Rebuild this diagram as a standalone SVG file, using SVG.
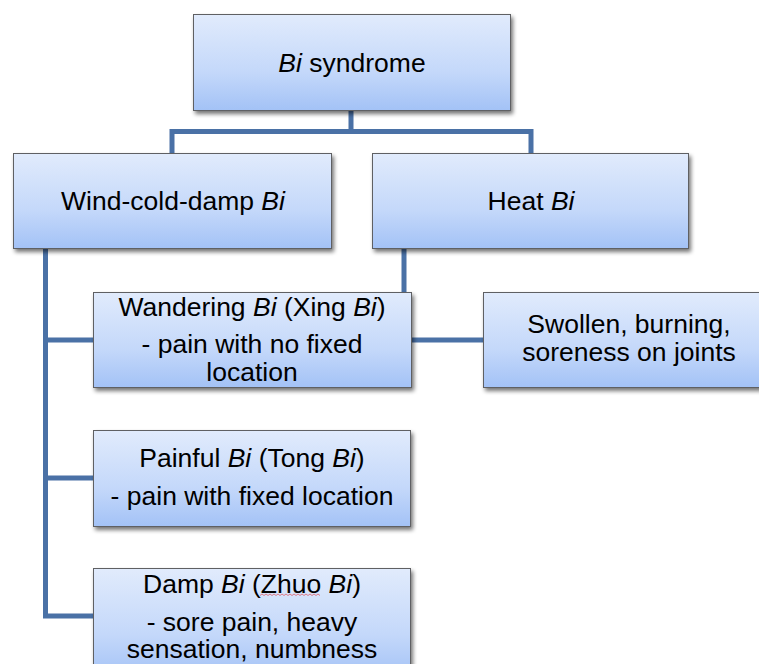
<svg xmlns="http://www.w3.org/2000/svg" width="759" height="664" viewBox="0 0 759 664">
<defs>
<linearGradient id="g" x1="0" y1="0" x2="0" y2="1">
<stop offset="0" stop-color="#e1ebfc"/>
<stop offset="0.6" stop-color="#c4d8fa"/>
<stop offset="1" stop-color="#a3c2f6"/>
</linearGradient>
<filter id="sh" x="-10%" y="-10%" width="130%" height="140%">
<feGaussianBlur in="SourceAlpha" stdDeviation="2"/>
<feOffset dx="2" dy="3" result="b"/>
<feComponentTransfer><feFuncA type="linear" slope="0.55"/></feComponentTransfer>
<feMerge><feMergeNode/><feMergeNode in="SourceGraphic"/></feMerge>
</filter>
</defs>
<style>
.box{fill:url(#g);stroke:#5f6064;stroke-width:1;filter:url(#sh)}
.t{font-family:"Liberation Sans",Arial,sans-serif;font-size:26.5px;fill:#000;text-anchor:middle}
.c{fill:none;stroke:#4a71a6;stroke-width:5}
</style>
<rect width="759" height="664" fill="#fff"/>
<g id="connectors">
<path class="c" d="M351 110 V131.5 M172 131.5 H531 M172 129 V153 M531 129 V153"/>
<path class="c" d="M45.5 249 V618.5 M43 340 H93 M43 478 H93 M43 616 H93"/>
<path class="c" d="M404 249 V292 M411 340 H484"/>
</g>
<g id="n-bi">
<rect class="box" x="193.5" y="14.5" width="317" height="96"/>
<text class="t" x="352" y="72"><tspan font-style="italic">Bi</tspan> syndrome</text>
</g>
<g id="n-wind">
<rect class="box" x="13.5" y="153.5" width="318" height="95"/>
<text class="t" x="173" y="210">Wind-cold-damp <tspan font-style="italic">Bi</tspan></text>
</g>
<g id="n-heat">
<rect class="box" x="372.5" y="153.5" width="316" height="95"/>
<text class="t" x="531" y="210">Heat <tspan font-style="italic">Bi</tspan></text>
</g>
<g id="n-wandering">
<rect class="box" x="93.5" y="292.5" width="318" height="95"/>
<text class="t" x="252" y="316">Wandering <tspan font-style="italic">Bi</tspan> (Xing <tspan font-style="italic">Bi</tspan>)</text>
<text class="t" x="252" y="353">- pain with no fixed</text>
<text class="t" x="252" y="381">location</text>
</g>
<g id="n-swollen">
<rect class="box" x="483.5" y="292.5" width="292" height="95"/>
<text class="t" x="629" y="333">Swollen, burning,</text>
<text class="t" x="629" y="361">soreness on joints</text>
</g>
<g id="n-painful">
<rect class="box" x="93.5" y="430.5" width="317" height="96"/>
<text class="t" x="252" y="467">Painful <tspan font-style="italic">Bi</tspan> (Tong <tspan font-style="italic">Bi</tspan>)</text>
<text class="t" x="252" y="505">- pain with fixed location</text>
</g>
<g id="n-damp">
<rect class="box" x="93.5" y="568.5" width="317" height="110"/>
<text class="t" x="252" y="593">Damp <tspan font-style="italic">Bi</tspan> (Zhuo <tspan font-style="italic">Bi</tspan>)</text>
<path d="M260 595.5 l2 -1.5 2 1.5 2 -1.5 2 1.5 2 -1.5 2 1.5 2 -1.5 2 1.5 2 -1.5 2 1.5 2 -1.5 2 1.5 2 -1.5 2 1.5 2 -1.5 2 1.5 2 -1.5 2 1.5 2 -1.5 2 1.5 2 -1.5 2 1.5 2 -1.5 2 1.5 2 -1.5 2 1.5 2 -1.5 2 1.5 2 -1.5 2 1.5" fill="none" stroke="#e0606a" stroke-width="0.8"/>
<text class="t" x="252" y="631">- sore pain, heavy</text>
<text class="t" x="252" y="658">sensation, numbness</text>
</g>
</svg>
